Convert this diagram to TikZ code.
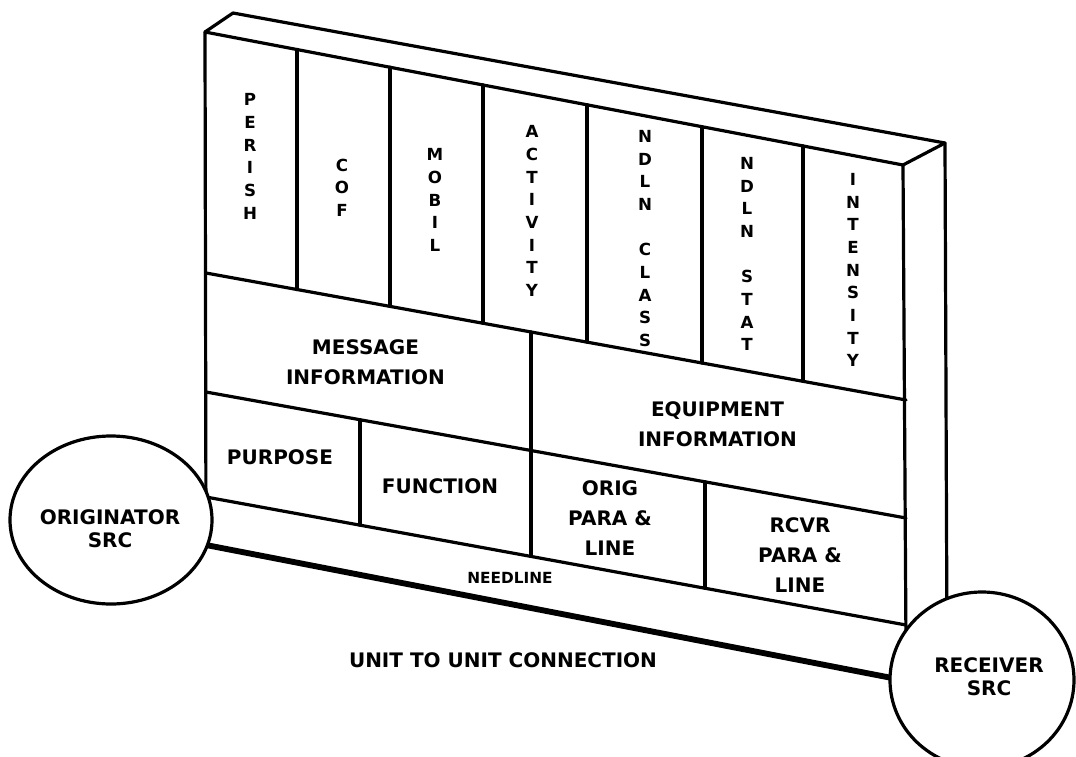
\documentclass[tikz,border=0pt]{standalone}
\usepackage{fontspec}
\setmainfont{DejaVu Sans}
\usetikzlibrary{shapes.geometric}
\begin{document}
\begin{tikzpicture}[x=0.75pt,y=-0.75pt,
  edge/.style={line width=2.4pt, line cap=round, line join=round},
  baseline rule/.style={line width=4.4pt, line cap=round},
  lbl/.style={font=\bfseries\fontsize{15}{22.5}\selectfont, align=center, inner sep=0pt},
  srclbl/.style={font=\bfseries\fontsize{15}{17.5}\selectfont, align=center, inner sep=0pt},
  small/.style={font=\bfseries\fontsize{11.5}{14}\selectfont, inner sep=0pt},
  column/.style={font=\bfseries\fontsize{12.5}{17}\selectfont, align=center, inner sep=0pt},
  srcshape/.style={ellipse, draw, fill=white, line width=2.4pt, inner sep=0pt}]
\clip (0,0) rectangle (1076,757);

% corners of the panel
\coordinate (ftl) at (205,32);
\coordinate (ftr) at (903,165);
\coordinate (btl) at (233,13);
\coordinate (btr) at (945,143);
\coordinate (fbl) at (206,540);
\coordinate (fbr) at (906,645);
\coordinate (bbr) at (947,645);

% outline: front face, top and right side
\draw[edge] (fbl) -- (ftl) -- (ftr) -- (fbr);
\draw[edge] (ftl) -- (btl) -- (btr) -- (bbr);
\draw[edge] (ftr) -- (btr);

% horizontal rules across the front face
\coordinate (r1a) at (206,273);   \coordinate (r1b) at (906,400);
\coordinate (r2a) at (206,392);   \coordinate (r2b) at (906,518);
\coordinate (r3a) at (206,497);   \coordinate (r3b) at (906,625);
\draw[edge] (r1a) -- (r1b);
\draw[edge] (r2a) -- (r2b);
\draw[edge] (r3a) -- (r3b);

% column dividers of the top band
\foreach \x/\ya/\yb in {297/49.5/289.5, 390/67.2/306.4, 483/85.0/323.3,
                        587/104.8/342.1, 702/126.7/363.0, 803/145.9/381.3}
  \draw[edge] (\x,\ya) -- (\x,\yb);

% dividers of the lower rows
\draw[edge] (531,332.0) -- (531,556.4);
\draw[edge] (360,419.7) -- (360,525.2);
\draw[edge] (705,481.8) -- (705,588.2);

% needline base
\coordinate (needA) at (206,545);
\coordinate (needB) at (892,678);
\draw[baseline rule] (needA) -- (needB);

% end units
\node[srcshape, minimum width=151.5pt, minimum height=126pt] (orig) at (111,520) {};
\node[srcshape, minimum width=138pt, minimum height=132pt] (rcvr) at (982,680) {};
\node[srclbl] (origtxt) at (110,528.5) {ORIGINATOR\\SRC};
\node[srclbl] (rcvrtxt) at (989,676.5) {RECEIVER\\SRC};

% column labels
\node[column] (perish)   at (250,156.5) {P\\E\\R\\I\\S\\H};
\node[column] (cof)      at (342,187.5) {C\\O\\F};
\node[column] (mobil)    at (435,200)   {M\\O\\B\\I\\L};
\node[column] (activity) at (532,211)   {A\\C\\T\\I\\V\\I\\T\\Y};
\node[column] (ndlnclass) at (645,238.5) {N\\D\\L\\N\\~\\C\\L\\A\\S\\S};
\node[column] (ndlnstat) at (747,254)   {N\\D\\L\\N\\~\\S\\T\\A\\T};
\node[column] (intens)   at (853,270)   {I\\N\\T\\E\\N\\S\\I\\T\\Y};

% row labels
\node[lbl] (msg)   at (365.5,362.5) {MESSAGE\\INFORMATION};
\node[lbl] (equip) at (717.5,424)   {EQUIPMENT\\INFORMATION};
\node[lbl] (purp)  at (280,457)     {PURPOSE};
\node[lbl] (func)  at (440,486)     {FUNCTION};
\node[lbl] (origp) at (610,518)     {ORIG\\PARA \&\\LINE};
\node[lbl] (rcvrp) at (800,555)     {RCVR\\PARA \&\\LINE};
\node[small] (needl) at (510,578)   {NEEDLINE};
\node[lbl] (unit)  at (503,660)     {UNIT TO UNIT CONNECTION};
\end{tikzpicture}
\end{document}
